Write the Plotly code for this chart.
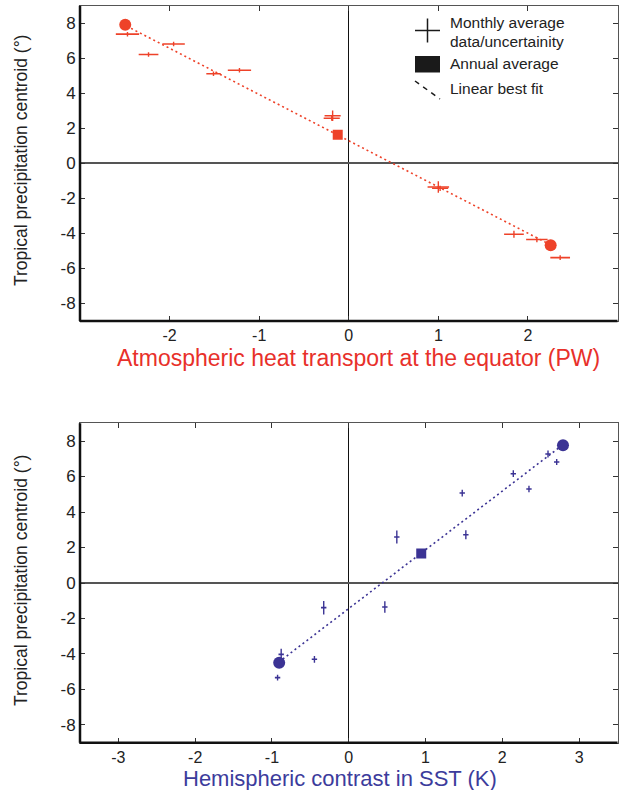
import plotly.graph_objects as go

# ---------------- data ----------------
# Top panel: atmospheric heat transport at the equator (PW) vs precipitation centroid
aht_month_x = [-2.47, -2.235, -1.955, -1.51, -1.22, -0.18, -0.19, 1.00, 1.02, 1.844, 2.10, 2.36]
aht_month_y = [7.38, 6.22, 6.82, 5.12, 5.32, 2.72, 2.58, -1.35, -1.42, -4.05, -4.35, -5.38]
aht_month_xerr = [0.13, 0.11, 0.125, 0.08, 0.13, 0.09, 0.09, 0.12, 0.09, 0.11, 0.12, 0.11]
aht_month_yerr = [0.13, 0.13, 0.13, 0.13, 0.13, 0.30, 0.15, 0.33, 0.15, 0.2, 0.15, 0.13]
aht_annual_x = [-2.495, -0.123, 2.254]
aht_annual_y = [7.92, 1.63, -4.68]
aht_annual_symbol = ["circle", "square", "circle"]
aht_fit_slope = -2.64
aht_fit_intercept = 1.294
aht_fit_xrange = [-2.43, 2.22]

# Bottom panel: hemispheric contrast in SST (K) vs precipitation centroid
sst_month_x = [2.595, 2.708, 2.143, 2.347, 1.478, 1.525, 0.626, 0.47, -0.326, -0.88, -0.447, -0.927]
sst_month_y = [7.27, 6.82, 6.16, 5.30, 5.07, 2.72, 2.59, -1.35, -1.39, -4.02, -4.30, -5.33]
sst_month_xerr = [0.035] * 12
sst_month_yerr = [0.20, 0.17, 0.19, 0.18, 0.19, 0.25, 0.37, 0.32, 0.38, 0.31, 0.19, 0.16]
sst_annual_x = [2.79, 0.944, -0.906]
sst_annual_y = [7.76, 1.66, -4.49]
sst_annual_symbol = ["circle", "square", "circle"]
sst_fit_slope = 3.31
sst_fit_intercept = -1.44
sst_fit_xrange = [-0.86, 2.75]

y_ticks = [-8, -6, -4, -2, 0, 2, 4, 6, 8]
aht_x_ticks = [-2, -1, 0, 1, 2]
sst_x_ticks = [-3, -2, -1, 0, 1, 2, 3]

RED = "#ee4229"
BLUE = "#3b3394"
FONT = "Liberation Sans, Arial, sans-serif"
W, H = 621, 790

fig = go.Figure()


def add_panel(xa, ya, mx, my, mxerr, myerr, ax, ay, asym, slope, icpt, xr, color):
    fx = list(xr)
    fy = [icpt + slope * v for v in fx]
    fig.add_trace(go.Scatter(
        x=fx, y=fy, mode="lines", xaxis=xa, yaxis=ya,
        line=dict(color=color, width=1.6, dash="2px,3px"), showlegend=False,
        hoverinfo="skip"))
    fig.add_trace(go.Scatter(
        x=mx, y=my, mode="markers", xaxis=xa, yaxis=ya,
        marker=dict(size=1, color=color, opacity=0),
        error_x=dict(type="data", array=mxerr, visible=True, width=0,
                     thickness=1.6, color=color),
        error_y=dict(type="data", array=myerr, visible=True, width=0,
                     thickness=1.4, color=color),
        showlegend=False))
    fig.add_trace(go.Scatter(
        x=ax, y=ay, mode="markers", xaxis=xa, yaxis=ya,
        marker=dict(size=[12 if s == "circle" else 10 for s in asym],
                    symbol=asym, color=color, opacity=1, line=dict(width=0)),
        showlegend=False))


add_panel("x", "y", aht_month_x, aht_month_y, aht_month_xerr, aht_month_yerr,
          aht_annual_x, aht_annual_y, aht_annual_symbol,
          aht_fit_slope, aht_fit_intercept, aht_fit_xrange, RED)
add_panel("x2", "y2", sst_month_x, sst_month_y, sst_month_xerr, sst_month_yerr,
          sst_annual_x, sst_annual_y, sst_annual_symbol,
          sst_fit_slope, sst_fit_intercept, sst_fit_xrange, BLUE)

x_dom = [80 / W, 617.5 / W]
top_dom = [1 - 321 / H, 1 - 5.8 / H]
bot_dom = [1 - 742.7 / H, 1 - 423.3 / H]

common_axis = dict(
    showgrid=False, ticks="inside", ticklen=5, tickwidth=1, tickcolor="#333",
    showline=True, linecolor="#555", linewidth=1, mirror="ticks",
)
yfont = dict(family=FONT, size=17, color="#222")
xfont = dict(family=FONT, size=16, color="#222")


def lab(vals):
    return [str(v) for v in vals]


fig.update_layout(
    width=W, height=H, margin=dict(l=0, r=0, t=0, b=0),
    paper_bgcolor="white", plot_bgcolor="white", showlegend=False,
    xaxis=dict(domain=x_dom, anchor="y", range=[-3, 3], tickvals=aht_x_ticks,
               ticktext=lab(aht_x_ticks), tickfont=xfont,
               zeroline=True, zerolinecolor="#111", zerolinewidth=1.2, **common_axis),
    yaxis=dict(domain=top_dom, anchor="x", range=[-9, 9], tickvals=y_ticks,
               ticktext=lab(y_ticks), tickfont=yfont,
               zeroline=True, zerolinecolor="#555", zerolinewidth=2, **common_axis),
    xaxis2=dict(domain=x_dom, anchor="y2", range=[-3.5, 3.5], tickvals=sst_x_ticks,
                ticktext=lab(sst_x_ticks), tickfont=xfont,
                zeroline=True, zerolinecolor="#111", zerolinewidth=1.2, **common_axis),
    yaxis2=dict(domain=bot_dom, anchor="x2", range=[-9, 9], tickvals=y_ticks,
                ticktext=lab(y_ticks), tickfont=yfont,
                zeroline=True, zerolinecolor="#555", zerolinewidth=2, **common_axis),
)

# thick left & bottom axis lines
for xr_, yr_ in (("x", "y"), ("x2", "y2")):
    fig.add_shape(type="line", xref=f"{xr_} domain", yref=f"{yr_} domain",
                  x0=0, x1=0, y0=0, y1=1, line=dict(color="#111", width=2.5), layer="above")
    fig.add_shape(type="line", xref=f"{xr_} domain", yref=f"{yr_} domain",
                  x0=0, x1=1, y0=0, y1=0, line=dict(color="#111", width=2.5), layer="above")


def px(xp):
    return xp / W


def py(yp):
    return 1 - yp / H


ytitle = "Tropical precipitation centroid (°)"
fig.add_annotation(text=ytitle, x=px(21), y=py(161), xref="paper", yref="paper",
                   textangle=-90, showarrow=False, xanchor="center", yanchor="middle",
                   font=dict(family=FONT, size=17.5, color="#222"))
fig.add_annotation(text=ytitle, x=px(21), y=py(581), xref="paper", yref="paper",
                   textangle=-90, showarrow=False, xanchor="center", yanchor="middle",
                   font=dict(family=FONT, size=17.5, color="#222"))
fig.add_annotation(text="Atmospheric heat transport at the equator (PW)",
                   x=px(358), y=py(358), xref="paper", yref="paper", showarrow=False,
                   xanchor="center", yanchor="middle",
                   font=dict(family=FONT, size=23, color="#e8302a"))
fig.add_annotation(text="Hemispheric contrast in SST (K)",
                   x=px(340), y=py(778), xref="paper", yref="paper", showarrow=False,
                   xanchor="center", yanchor="middle",
                   font=dict(family=FONT, size=22, color="#3c3c9c"))

# manual legend (top panel)
LEG = "#1a1a1a"
fig.add_shape(type="line", xref="paper", yref="paper", x0=px(415), x1=px(440),
              y0=py(30.5), y1=py(30.5), line=dict(color=LEG, width=1.5))
fig.add_shape(type="line", xref="paper", yref="paper", x0=px(427.5), x1=px(427.5),
              y0=py(18.5), y1=py(42.5), line=dict(color=LEG, width=1.5))
fig.add_shape(type="rect", xref="paper", yref="paper", x0=px(415), x1=px(440),
              y0=py(56), y1=py(72.5), line=dict(width=0), fillcolor=LEG)
fig.add_shape(type="line", xref="paper", yref="paper", x0=px(415), x1=px(440),
              y0=py(81), y1=py(99), line=dict(color=LEG, width=1.5, dash="5px,5px"))
for txt, yy in (("Monthly average", 22.5), ("data/uncertainity", 41.5),
                ("Annual average", 63.5), ("Linear best fit", 88.5)):
    fig.add_annotation(text=txt, x=px(448), y=py(yy), xref="paper", yref="paper",
                       showarrow=False, xanchor="left", yanchor="middle",
                       font=dict(family=FONT, size=15.5, color="#222"))

fig.write_html("out.html", config={"displayModeBar": False},
               post_script="document.body.style.margin='0px';document.body.style.overflow='hidden';")
